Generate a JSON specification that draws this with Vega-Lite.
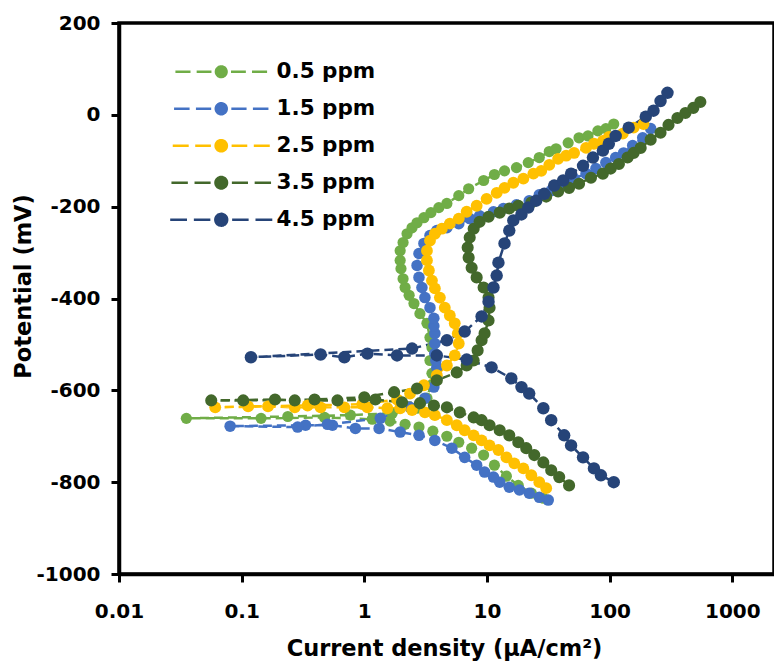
{
"$schema":"https://vega.github.io/schema/vega-lite/v6.json",
"width":655,"height":551,
"autosize":{"type":"none"},
"padding":{"left":119,"top":23,"right":0,"bottom":90},
"background":"white",
"config":{
 "font":"DejaVu Sans",
 "view":{"stroke":"black","strokeWidth":3.5},
 "axis":{"grid":false,"domainColor":"black","domainWidth":3.5,"tickColor":"black","tickWidth":3,"tickSize":8,"labelColor":"black","labelFont":"DejaVu Sans","labelFontWeight":"bold","labelFontSize":20,"titleColor":"black","titleFont":"DejaVu Sans","titleFontWeight":"bold","titleFontSize":22.5}
},
"datasets":{"d":[
{"s":"0.5 ppm","i":0,"I":28.8,"E":-835},{"s":"0.5 ppm","i":1,"I":23.0,"E":-824},{"s":"0.5 ppm","i":2,"I":18.0,"E":-807},{"s":"0.5 ppm","i":3,"I":14.4,"E":-787},{"s":"0.5 ppm","i":4,"I":11.5,"E":-763},{"s":"0.5 ppm","i":5,"I":9.39,"E":-741},{"s":"0.5 ppm","i":6,"I":7.5,"E":-726},{"s":"0.5 ppm","i":7,"I":5.89,"E":-713},{"s":"0.5 ppm","i":8,"I":4.71,"E":-700},{"s":"0.5 ppm","i":9,"I":3.62,"E":-689},{"s":"0.5 ppm","i":10,"I":2.79,"E":-680},{"s":"0.5 ppm","i":11,"I":2.15,"E":-674},{"s":"0.5 ppm","i":12,"I":1.62,"E":-667},{"s":"0.5 ppm","i":13,"I":1.16,"E":-663},{"s":"0.5 ppm","i":14,"I":0.474,"E":-659},{"s":"0.5 ppm","i":15,"I":0.144,"E":-661},{"s":"0.5 ppm","i":16,"I":0.0354,"E":-661},
{"s":"0.5 ppm","i":17,"I":0.238,"E":-657},{"s":"0.5 ppm","i":18,"I":0.77,"E":-654},{"s":"0.5 ppm","i":19,"I":1.69,"E":-650},{"s":"0.5 ppm","i":20,"I":2.69,"E":-639},{"s":"0.5 ppm","i":21,"I":3.24,"E":-617},{"s":"0.5 ppm","i":22,"I":3.49,"E":-589},{"s":"0.5 ppm","i":23,"I":3.56,"E":-563},{"s":"0.5 ppm","i":24,"I":3.43,"E":-535},{"s":"0.5 ppm","i":25,"I":3.56,"E":-507},{"s":"0.5 ppm","i":26,"I":3.43,"E":-485},{"s":"0.5 ppm","i":27,"I":3.24,"E":-454},{"s":"0.5 ppm","i":28,"I":2.84,"E":-433},{"s":"0.5 ppm","i":29,"I":2.54,"E":-411},{"s":"0.5 ppm","i":30,"I":2.32,"E":-393},{"s":"0.5 ppm","i":31,"I":2.15,"E":-376},{"s":"0.5 ppm","i":32,"I":2.07,"E":-357},{"s":"0.5 ppm","i":33,"I":1.99,"E":-335},{"s":"0.5 ppm","i":34,"I":1.96,"E":-317},{"s":"0.5 ppm","i":35,"I":1.96,"E":-296},{"s":"0.5 ppm","i":36,"I":2.07,"E":-278},{"s":"0.5 ppm","i":37,"I":2.23,"E":-259},{"s":"0.5 ppm","i":38,"I":2.45,"E":-246},{"s":"0.5 ppm","i":39,"I":2.69,"E":-235},{"s":"0.5 ppm","i":40,"I":3.06,"E":-224},{"s":"0.5 ppm","i":41,"I":3.49,"E":-213},{"s":"0.5 ppm","i":42,"I":4.05,"E":-202},{"s":"0.5 ppm","i":43,"I":4.71,"E":-193},{"s":"0.5 ppm","i":44,"I":5.89,"E":-176},{"s":"0.5 ppm","i":45,"I":7.09,"E":-161},{"s":"0.5 ppm","i":46,"I":9.39,"E":-143},{"s":"0.5 ppm","i":47,"I":11.5,"E":-130},{"s":"0.5 ppm","i":48,"I":13.9,"E":-122},{"s":"0.5 ppm","i":49,"I":17.4,"E":-115},{"s":"0.5 ppm","i":50,"I":21.7,"E":-104},{"s":"0.5 ppm","i":51,"I":26.7,"E":-93},{"s":"0.5 ppm","i":52,"I":32.2,"E":-80},{"s":"0.5 ppm","i":53,"I":36.6,"E":-74},{"s":"0.5 ppm","i":54,"I":45.9,"E":-61},{"s":"0.5 ppm","i":55,"I":56.3,"E":-50},{"s":"0.5 ppm","i":56,"I":66.6,"E":-46},{"s":"0.5 ppm","i":57,"I":80.2,"E":-35},{"s":"0.5 ppm","i":58,"I":93.2,"E":-30},{"s":"0.5 ppm","i":59,"I":108,"E":-20},
{"s":"1.5 ppm","i":0,"I":31.6,"E":-839},{"s":"1.5 ppm","i":1,"I":26.7,"E":-833},{"s":"1.5 ppm","i":2,"I":22.1,"E":-824},{"s":"1.5 ppm","i":3,"I":18.4,"E":-817},{"s":"1.5 ppm","i":4,"I":15.2,"E":-811},{"s":"1.5 ppm","i":5,"I":12.7,"E":-800},{"s":"1.5 ppm","i":6,"I":11.3,"E":-789},{"s":"1.5 ppm","i":7,"I":9.56,"E":-778},{"s":"1.5 ppm","i":8,"I":8.24,"E":-763},{"s":"1.5 ppm","i":9,"I":6.58,"E":-746},{"s":"1.5 ppm","i":10,"I":5.17,"E":-726},{"s":"1.5 ppm","i":11,"I":3.76,"E":-709},{"s":"1.5 ppm","i":12,"I":2.79,"E":-698},{"s":"1.5 ppm","i":13,"I":1.96,"E":-691},{"s":"1.5 ppm","i":14,"I":1.32,"E":-683},{"s":"1.5 ppm","i":15,"I":0.846,"E":-683},{"s":"1.5 ppm","i":16,"I":0.55,"E":-676},{"s":"1.5 ppm","i":17,"I":0.332,"E":-676},{"s":"1.5 ppm","i":18,"I":0.0805,"E":-678},
{"s":"1.5 ppm","i":19,"I":0.286,"E":-680},{"s":"1.5 ppm","i":20,"I":0.501,"E":-674},{"s":"1.5 ppm","i":21,"I":1.35,"E":-661},{"s":"1.5 ppm","i":22,"I":2.36,"E":-637},{"s":"1.5 ppm","i":23,"I":3.12,"E":-617},{"s":"1.5 ppm","i":24,"I":3.69,"E":-593},{"s":"1.5 ppm","i":25,"I":3.9,"E":-572},{"s":"1.5 ppm","i":26,"I":3.9,"E":-550},{"s":"1.5 ppm","i":27,"I":3.83,"E":-535},{"s":"1.5 ppm","i":28,"I":3.76,"E":-520},{"s":"1.5 ppm","i":29,"I":3.76,"E":-498},{"s":"1.5 ppm","i":30,"I":3.76,"E":-476},{"s":"1.5 ppm","i":31,"I":3.69,"E":-460},{"s":"1.5 ppm","i":32,"I":3.69,"E":-443},{"s":"1.5 ppm","i":33,"I":3.43,"E":-420},{"s":"1.5 ppm","i":34,"I":3.12,"E":-398},{"s":"1.5 ppm","i":35,"I":2.95,"E":-376},{"s":"1.5 ppm","i":36,"I":2.79,"E":-354},{"s":"1.5 ppm","i":37,"I":2.69,"E":-328},{"s":"1.5 ppm","i":38,"I":2.79,"E":-302},{"s":"1.5 ppm","i":39,"I":3.06,"E":-280},{"s":"1.5 ppm","i":40,"I":3.43,"E":-263},{"s":"1.5 ppm","i":41,"I":3.9,"E":-252},{"s":"1.5 ppm","i":42,"I":4.71,"E":-246},{"s":"1.5 ppm","i":43,"I":5.89,"E":-237},{"s":"1.5 ppm","i":44,"I":7.23,"E":-226},{"s":"1.5 ppm","i":45,"I":8.71,"E":-220},{"s":"1.5 ppm","i":46,"I":11.3,"E":-211},{"s":"1.5 ppm","i":47,"I":13.6,"E":-204},{"s":"1.5 ppm","i":48,"I":17.4,"E":-196},{"s":"1.5 ppm","i":49,"I":22.1,"E":-187},{"s":"1.5 ppm","i":50,"I":26.7,"E":-174},{"s":"1.5 ppm","i":51,"I":33.4,"E":-165},{"s":"1.5 ppm","i":52,"I":41.8,"E":-152},{"s":"1.5 ppm","i":53,"I":51.3,"E":-139},{"s":"1.5 ppm","i":54,"I":64.2,"E":-128},{"s":"1.5 ppm","i":55,"I":77.3,"E":-117},{"s":"1.5 ppm","i":56,"I":93.2,"E":-104},{"s":"1.5 ppm","i":57,"I":112,"E":-93},{"s":"1.5 ppm","i":58,"I":130,"E":-83},{"s":"1.5 ppm","i":59,"I":154,"E":-67},{"s":"1.5 ppm","i":60,"I":186,"E":-50},{"s":"1.5 ppm","i":61,"I":216,"E":-30},
{"s":"2.5 ppm","i":0,"I":30.4,"E":-813},{"s":"2.5 ppm","i":1,"I":26.7,"E":-800},{"s":"2.5 ppm","i":2,"I":23.0,"E":-785},{"s":"2.5 ppm","i":3,"I":19.8,"E":-770},{"s":"2.5 ppm","i":4,"I":16.7,"E":-759},{"s":"2.5 ppm","i":5,"I":14.4,"E":-746},{"s":"2.5 ppm","i":6,"I":12.4,"E":-730},{"s":"2.5 ppm","i":7,"I":10.5,"E":-720},{"s":"2.5 ppm","i":8,"I":9.04,"E":-709},{"s":"2.5 ppm","i":9,"I":7.79,"E":-698},{"s":"2.5 ppm","i":10,"I":6.58,"E":-687},{"s":"2.5 ppm","i":11,"I":5.67,"E":-676},{"s":"2.5 ppm","i":12,"I":4.71,"E":-665},{"s":"2.5 ppm","i":13,"I":3.76,"E":-654},{"s":"2.5 ppm","i":14,"I":3.12,"E":-648},{"s":"2.5 ppm","i":15,"I":2.45,"E":-643},{"s":"2.5 ppm","i":16,"I":1.96,"E":-639},{"s":"2.5 ppm","i":17,"I":1.54,"E":-639},{"s":"2.5 ppm","i":18,"I":1.06,"E":-637},{"s":"2.5 ppm","i":19,"I":0.688,"E":-637},{"s":"2.5 ppm","i":20,"I":0.44,"E":-637},{"s":"2.5 ppm","i":21,"I":0.271,"E":-637},{"s":"2.5 ppm","i":22,"I":0.164,"E":-635},{"s":"2.5 ppm","i":23,"I":0.0609,"E":-637},
{"s":"2.5 ppm","i":24,"I":0.113,"E":-635},{"s":"2.5 ppm","i":25,"I":0.345,"E":-633},{"s":"2.5 ppm","i":26,"I":0.963,"E":-630},{"s":"2.5 ppm","i":27,"I":1.85,"E":-620},{"s":"2.5 ppm","i":28,"I":2.36,"E":-607},{"s":"2.5 ppm","i":29,"I":3.06,"E":-589},{"s":"2.5 ppm","i":30,"I":3.9,"E":-567},{"s":"2.5 ppm","i":31,"I":4.71,"E":-546},{"s":"2.5 ppm","i":32,"I":5.46,"E":-524},{"s":"2.5 ppm","i":33,"I":5.89,"E":-498},{"s":"2.5 ppm","i":34,"I":5.78,"E":-476},{"s":"2.5 ppm","i":35,"I":5.46,"E":-454},{"s":"2.5 ppm","i":36,"I":4.98,"E":-437},{"s":"2.5 ppm","i":37,"I":4.53,"E":-420},{"s":"2.5 ppm","i":38,"I":4.13,"E":-398},{"s":"2.5 ppm","i":39,"I":3.76,"E":-378},{"s":"2.5 ppm","i":40,"I":3.56,"E":-361},{"s":"2.5 ppm","i":41,"I":3.36,"E":-339},{"s":"2.5 ppm","i":42,"I":3.24,"E":-317},{"s":"2.5 ppm","i":43,"I":3.24,"E":-296},{"s":"2.5 ppm","i":44,"I":3.43,"E":-274},{"s":"2.5 ppm","i":45,"I":3.76,"E":-259},{"s":"2.5 ppm","i":46,"I":4.29,"E":-248},{"s":"2.5 ppm","i":47,"I":4.98,"E":-237},{"s":"2.5 ppm","i":48,"I":5.89,"E":-226},{"s":"2.5 ppm","i":49,"I":6.83,"E":-211},{"s":"2.5 ppm","i":50,"I":8.24,"E":-198},{"s":"2.5 ppm","i":51,"I":9.93,"E":-183},{"s":"2.5 ppm","i":52,"I":12.0,"E":-170},{"s":"2.5 ppm","i":53,"I":13.9,"E":-159},{"s":"2.5 ppm","i":54,"I":16.4,"E":-148},{"s":"2.5 ppm","i":55,"I":19.8,"E":-139},{"s":"2.5 ppm","i":56,"I":23.9,"E":-128},{"s":"2.5 ppm","i":57,"I":27.7,"E":-122},{"s":"2.5 ppm","i":58,"I":32.2,"E":-109},{"s":"2.5 ppm","i":59,"I":38.0,"E":-96},{"s":"2.5 ppm","i":60,"I":44.2,"E":-89},{"s":"2.5 ppm","i":61,"I":51.3,"E":-83},{"s":"2.5 ppm","i":62,"I":64.2,"E":-72},{"s":"2.5 ppm","i":63,"I":74.5,"E":-63},{"s":"2.5 ppm","i":64,"I":88.1,"E":-57},{"s":"2.5 ppm","i":65,"I":98.5,"E":-48},{"s":"2.5 ppm","i":66,"I":128,"E":-41},{"s":"2.5 ppm","i":67,"I":157,"E":-28},{"s":"2.5 ppm","i":68,"I":189,"E":-20},
{"s":"3.5 ppm","i":0,"I":46.7,"E":-807},{"s":"3.5 ppm","i":1,"I":38.8,"E":-789},{"s":"3.5 ppm","i":2,"I":33.4,"E":-774},{"s":"3.5 ppm","i":3,"I":28.8,"E":-757},{"s":"3.5 ppm","i":4,"I":24.3,"E":-741},{"s":"3.5 ppm","i":5,"I":20.9,"E":-726},{"s":"3.5 ppm","i":6,"I":18.0,"E":-713},{"s":"3.5 ppm","i":7,"I":15.2,"E":-698},{"s":"3.5 ppm","i":8,"I":12.7,"E":-687},{"s":"3.5 ppm","i":9,"I":10.5,"E":-676},{"s":"3.5 ppm","i":10,"I":9.04,"E":-665},{"s":"3.5 ppm","i":11,"I":7.79,"E":-659},{"s":"3.5 ppm","i":12,"I":6.0,"E":-648},{"s":"3.5 ppm","i":13,"I":4.71,"E":-637},{"s":"3.5 ppm","i":14,"I":3.69,"E":-633},{"s":"3.5 ppm","i":15,"I":2.84,"E":-628},{"s":"3.5 ppm","i":16,"I":2.03,"E":-626},{"s":"3.5 ppm","i":17,"I":1.23,"E":-620},{"s":"3.5 ppm","i":18,"I":0.604,"E":-622},{"s":"3.5 ppm","i":19,"I":0.271,"E":-622},{"s":"3.5 ppm","i":20,"I":0.187,"E":-620},{"s":"3.5 ppm","i":21,"I":0.0565,"E":-622},
{"s":"3.5 ppm","i":22,"I":0.103,"E":-622},{"s":"3.5 ppm","i":23,"I":0.393,"E":-620},{"s":"3.5 ppm","i":24,"I":1.0,"E":-615},{"s":"3.5 ppm","i":25,"I":1.75,"E":-604},{"s":"3.5 ppm","i":26,"I":2.69,"E":-596},{"s":"3.5 ppm","i":27,"I":3.9,"E":-578},{"s":"3.5 ppm","i":28,"I":5.67,"E":-561},{"s":"3.5 ppm","i":29,"I":6.83,"E":-546},{"s":"3.5 ppm","i":30,"I":7.79,"E":-535},{"s":"3.5 ppm","i":31,"I":8.39,"E":-513},{"s":"3.5 ppm","i":32,"I":9.04,"E":-491},{"s":"3.5 ppm","i":33,"I":9.56,"E":-476},{"s":"3.5 ppm","i":34,"I":10.3,"E":-448},{"s":"3.5 ppm","i":35,"I":10.5,"E":-420},{"s":"3.5 ppm","i":36,"I":10.3,"E":-398},{"s":"3.5 ppm","i":37,"I":9.39,"E":-376},{"s":"3.5 ppm","i":38,"I":8.24,"E":-354},{"s":"3.5 ppm","i":39,"I":7.5,"E":-333},{"s":"3.5 ppm","i":40,"I":7.09,"E":-311},{"s":"3.5 ppm","i":41,"I":6.96,"E":-289},{"s":"3.5 ppm","i":42,"I":7.23,"E":-267},{"s":"3.5 ppm","i":43,"I":7.79,"E":-248},{"s":"3.5 ppm","i":44,"I":8.71,"E":-233},{"s":"3.5 ppm","i":45,"I":10.3,"E":-222},{"s":"3.5 ppm","i":46,"I":12.7,"E":-213},{"s":"3.5 ppm","i":47,"I":15.2,"E":-204},{"s":"3.5 ppm","i":48,"I":18.0,"E":-198},{"s":"3.5 ppm","i":49,"I":23.0,"E":-191},{"s":"3.5 ppm","i":50,"I":30.4,"E":-178},{"s":"3.5 ppm","i":51,"I":38.0,"E":-167},{"s":"3.5 ppm","i":52,"I":46.7,"E":-159},{"s":"3.5 ppm","i":53,"I":56.3,"E":-150},{"s":"3.5 ppm","i":54,"I":70.4,"E":-137},{"s":"3.5 ppm","i":55,"I":88.1,"E":-128},{"s":"3.5 ppm","i":56,"I":102,"E":-117},{"s":"3.5 ppm","i":57,"I":119,"E":-107},{"s":"3.5 ppm","i":58,"I":140,"E":-93},{"s":"3.5 ppm","i":59,"I":157,"E":-83},{"s":"3.5 ppm","i":60,"I":179,"E":-72},{"s":"3.5 ppm","i":61,"I":216,"E":-54},{"s":"3.5 ppm","i":62,"I":260,"E":-39},{"s":"3.5 ppm","i":63,"I":302,"E":-22},{"s":"3.5 ppm","i":64,"I":357,"E":-7},{"s":"3.5 ppm","i":65,"I":415,"E":4},{"s":"3.5 ppm","i":66,"I":481,"E":15},{"s":"3.5 ppm","i":67,"I":549,"E":28},
{"s":"4.5 ppm","i":0,"I":108,"E":-800},{"s":"4.5 ppm","i":1,"I":84.9,"E":-785},{"s":"4.5 ppm","i":2,"I":74.5,"E":-770},{"s":"4.5 ppm","i":3,"I":60.7,"E":-746},{"s":"4.5 ppm","i":4,"I":48.5,"E":-720},{"s":"4.5 ppm","i":5,"I":42.6,"E":-698},{"s":"4.5 ppm","i":6,"I":33.4,"E":-665},{"s":"4.5 ppm","i":7,"I":28.8,"E":-639},{"s":"4.5 ppm","i":8,"I":22.1,"E":-607},{"s":"4.5 ppm","i":9,"I":19.1,"E":-593},{"s":"4.5 ppm","i":10,"I":15.8,"E":-574},{"s":"4.5 ppm","i":11,"I":10.9,"E":-550},{"s":"4.5 ppm","i":12,"I":6.83,"E":-533},{"s":"4.5 ppm","i":13,"I":3.9,"E":-524},{"s":"4.5 ppm","i":14,"I":1.85,"E":-524},{"s":"4.5 ppm","i":15,"I":1.06,"E":-520},{"s":"4.5 ppm","i":16,"I":0.688,"E":-528},{"s":"4.5 ppm","i":17,"I":0.44,"E":-522},{"s":"4.5 ppm","i":18,"I":0.119,"E":-528},
{"s":"4.5 ppm","i":19,"I":2.45,"E":-509},{"s":"4.5 ppm","i":20,"I":4.71,"E":-491},{"s":"4.5 ppm","i":21,"I":6.58,"E":-472},{"s":"4.5 ppm","i":22,"I":9.04,"E":-439},{"s":"4.5 ppm","i":23,"I":10.3,"E":-407},{"s":"4.5 ppm","i":24,"I":11.3,"E":-376},{"s":"4.5 ppm","i":25,"I":12.0,"E":-350},{"s":"4.5 ppm","i":26,"I":12.4,"E":-322},{"s":"4.5 ppm","i":27,"I":13.9,"E":-280},{"s":"4.5 ppm","i":28,"I":15.2,"E":-252},{"s":"4.5 ppm","i":29,"I":16.4,"E":-230},{"s":"4.5 ppm","i":30,"I":19.1,"E":-217},{"s":"4.5 ppm","i":31,"I":21.7,"E":-202},{"s":"4.5 ppm","i":32,"I":25.2,"E":-187},{"s":"4.5 ppm","i":33,"I":29.3,"E":-172},{"s":"4.5 ppm","i":34,"I":35.3,"E":-154},{"s":"4.5 ppm","i":35,"I":41.8,"E":-143},{"s":"4.5 ppm","i":36,"I":48.5,"E":-128},{"s":"4.5 ppm","i":37,"I":60.7,"E":-111},{"s":"4.5 ppm","i":38,"I":73.1,"E":-93},{"s":"4.5 ppm","i":39,"I":88.1,"E":-78},{"s":"4.5 ppm","i":40,"I":98.5,"E":-63},{"s":"4.5 ppm","i":41,"I":112,"E":-46},{"s":"4.5 ppm","i":42,"I":143,"E":-28},{"s":"4.5 ppm","i":43,"I":197,"E":-4},{"s":"4.5 ppm","i":44,"I":228,"E":9},{"s":"4.5 ppm","i":45,"I":260,"E":30},{"s":"4.5 ppm","i":46,"I":296,"E":48}
]},
"data":{"name":"d"},
"encoding":{
 "x":{"field":"I","type":"quantitative","scale":{"type":"log","domain":[0.01,2188],"nice":false},
  "axis":{"values":[0.01,0.1,1,10,100,1000],"labelExpr":"toString(datum.value)","labelFlush":false,"labelOverlap":false,"labelPadding":19,"title":"Current density (µA/cm²)","titleX":325,"titleY":63}},
 "y":{"field":"E","type":"quantitative","scale":{"domain":[-1000,200],"nice":false,"zero":false},
  "axis":{"values":[-1000,-800,-600,-400,-200,0,200],"labelExpr":"toString(datum.value)","labelPadding":11,"title":"Potential (mV)","titleX":-84,"titleY":263}},
 "color":{"field":"s","type":"nominal",
  "scale":{"domain":["0.5 ppm","1.5 ppm","2.5 ppm","3.5 ppm","4.5 ppm"],"range":["#70AD47","#4472C4","#FFC000","#43682B","#264478"]},
  "legend":{"title":null,"orient":"none","legendX":91.5,"legendY":38,"padding":0,
   "symbolType":"M-8.2,0H-5.5M-4.4,0H-1.75M1.75,0H4.4M5.5,0H8.2M0.95,0A0.95,0.95,0,1,1,-0.95,0A0.95,0.95,0,1,1,0.95,0Z",
   "symbolSize":100,"symbolStrokeWidth":2.5,"symbolDash":[1,0],"symbolOpacity":1,
   "labelFont":"DejaVu Sans","labelFontWeight":"bold","labelFontSize":21.5,"labelColor":"black","labelOffset":44.5,"rowPadding":14,
   "encode":{"symbols":{"update":{"stroke":{"scale":"color","field":"value"},"fill":{"scale":"color","field":"value"},"strokeWidth":{"value":2.5}}}}}
 }
},
"layer":[
 {"mark":{"type":"line","strokeDash":[9,5],"strokeWidth":2.5},"encoding":{"order":{"field":"i","type":"quantitative"}}},
 {"mark":{"type":"point","shape":"circle","filled":true,"opacity":1,"strokeWidth":0},
  "encoding":{"size":{"field":"s","type":"nominal","scale":{"domain":["0.5 ppm","1.5 ppm","2.5 ppm","3.5 ppm","4.5 ppm"],"range":[125,155,125,125,125]},"legend":null}}}
]
}
